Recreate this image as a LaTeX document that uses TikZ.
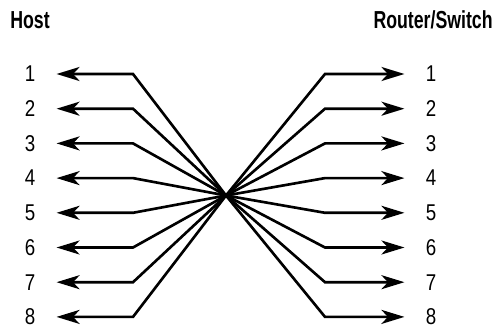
\documentclass[tikz,border=0pt]{standalone}
\usepackage{fontspec}
\setmainfont{Liberation Sans}[FakeStretch=0.82]
\newfontfamily\titelfont{Liberation Sans}[FakeStretch=0.72]
\usetikzlibrary{arrows.meta}

\tikzset{
    kabel/.style = {line width = 1.5pt, -{Stealth[length = 0.46cm, width = 0.28cm, inset = 0.13cm]}},
    pin/.style = {inner xsep = 0.42cm, inner ysep = 0pt, font = \fontsize{13}{15}\selectfont},
    titel/.style = {inner sep = 0pt, font = \fontsize{14}{16}\titelfont\bfseries}
}

\begin{document}
\begin{tikzpicture}
    \useasboundingbox (0, 0) rectangle (9.86, 6.54);

    % Ueberschriften
    \node [titel, anchor = west] (host) at (0.2, 6.14) {Host};
    \node [titel, anchor = east] (router) at (9.86, 6.14) {Router/Switch};

    % Kreuzungspunkt
    \coordinate (mitte) at (4.52, 2.63);

    \foreach \i in {1, ..., 8} {
        \pgfmathsetmacro{\y}{5.06 - (\i - 1) * 0.694}

        % links
        \node [pin] (h\i) at (0.6, \y) {\i};
        \coordinate (hk\i) at (2.66, \y);
        \draw [kabel] (mitte) -- (hk\i) -- (h\i);

        % rechts
        \node [pin] (s\i) at (8.62, \y) {\i};
        \coordinate (sk\i) at (6.5, \y);
        \draw [kabel] (mitte) -- (sk\i) -- (s\i);
    }
\end{tikzpicture}
\end{document}
